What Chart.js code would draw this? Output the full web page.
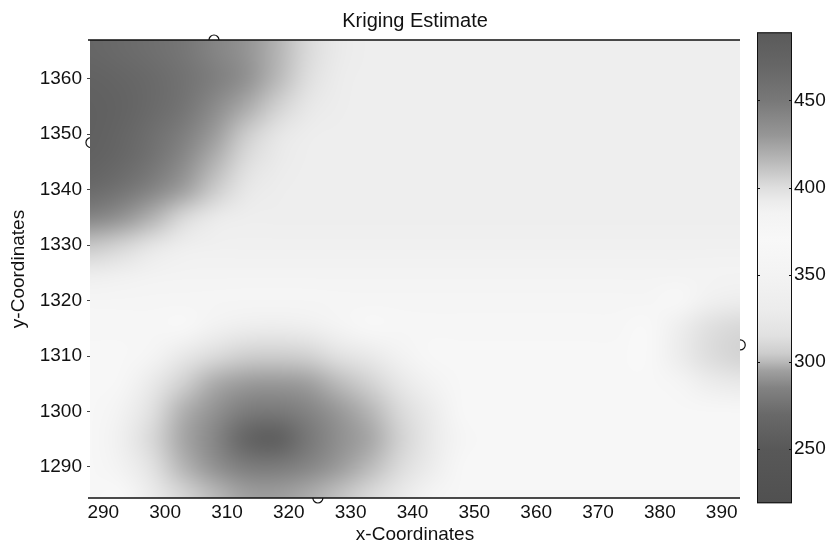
<!DOCTYPE html>
<html>
<head>
<meta charset="utf-8">
<script src="https://cdn.jsdelivr.net/npm/chart.js@4.4.0/dist/chart.umd.min.js"></script>
<style>
  html, body { margin: 0; padding: 0; background: #fff; }
  #wrap { width: 830px; height: 547px; }
</style>
</head>
<body>
<div id="wrap"><canvas id="krig" width="830" height="547"></canvas></div>
<script>
// grid nodes of the estimate (x left->right, y top->bottom)
const xNodes = [288, 293, 298, 303, 308, 313, 318, 323, 328, 333, 338, 343, 348, 353, 358, 363, 368, 373, 378, 383, 388, 393];
const yNodes = [1365, 1360, 1355, 1350, 1345, 1340, 1335, 1330, 1325, 1320, 1315, 1310, 1305, 1300, 1295, 1290, 1285];

// kriged values, one row per yNode
const estimate = [
  [470, 466, 460, 452, 442, 432, 418, 402, 393, 390, 390, 390, 390, 390, 390, 390, 390, 390, 390, 390, 390, 390],
  [476, 472, 466, 457, 446, 434, 416, 400, 392, 390, 390, 390, 390, 390, 390, 390, 390, 390, 390, 390, 390, 390],
  [480, 474, 466, 454, 438, 422, 406, 395, 391, 390, 390, 390, 390, 390, 390, 390, 390, 390, 390, 390, 390, 390],
  [480, 472, 460, 446, 428, 408, 396, 391, 390, 390, 390, 390, 390, 390, 390, 390, 390, 390, 390, 390, 390, 390],
  [477, 468, 454, 438, 418, 401, 393, 390, 390, 390, 390, 390, 390, 390, 390, 390, 390, 390, 390, 390, 390, 390],
  [466, 456, 442, 426, 408, 395, 391, 390, 390, 390, 390, 390, 390, 390, 390, 390, 390, 390, 390, 390, 390, 390],
  [442, 432, 418, 402, 393, 390, 390, 390, 390, 390, 390, 390, 390, 390, 390, 390, 390, 390, 390, 390, 390, 390],
  [410, 404, 396, 390, 388, 388, 388, 388, 388, 388, 388, 388, 388, 388, 388, 388, 388, 388, 388, 388, 388, 388],
  [392, 389, 386, 385, 384, 384, 384, 384, 384, 384, 384, 384, 384, 384, 384, 384, 384, 384, 384, 384, 384, 384],
  [380, 380, 380, 380, 380, 380, 380, 380, 380, 380, 380, 380, 380, 380, 380, 380, 380, 380, 380, 366, 340, 332],
  [375, 375, 375, 364, 343, 332, 331, 336, 349, 366, 375, 375, 375, 375, 375, 375, 375, 375, 371, 337, 314, 310],
  [372, 372, 353, 325, 312, 306, 305, 307, 315, 326, 348, 372, 372, 372, 372, 372, 372, 372, 369, 334, 313, 308],
  [372, 363, 326, 306, 297, 293, 292, 294, 300, 307, 323, 348, 372, 372, 372, 372, 372, 372, 372, 356, 333, 326],
  [372, 346, 314, 298, 290, 281, 279, 285, 292, 299, 311, 329, 365, 372, 372, 372, 372, 372, 372, 372, 372, 366],
  [372, 339, 310, 296, 286, 264, 256, 278, 289, 296, 307, 326, 359, 372, 372, 372, 372, 372, 372, 372, 372, 372],
  [372, 347, 315, 299, 290, 282, 281, 286, 293, 300, 312, 331, 366, 372, 372, 372, 372, 372, 372, 372, 372, 372],
  [372, 369, 329, 309, 300, 295, 294, 297, 302, 311, 326, 354, 372, 372, 372, 372, 372, 372, 372, 372, 372, 372]
];

// sample locations
const sampleX = [307.9, 288, 324.7, 393];
const sampleY = [1367, 1348.5, 1284.4, 1312];

const xTicks = [290, 300, 310, 320, 330, 340, 350, 360, 370, 380, 390];
const yTicks = [1290, 1300, 1310, 1320, 1330, 1340, 1350, 1360];
const barTicks = [250, 300, 350, 400, 450];
const barMin = 219, barMax = 489;

// gray colormap: [value, gray level]
const grayStops = [
  [219, 80], [250, 88], [270, 105], [285, 130], [295, 160], [300, 185], [305, 205],
  [315, 225], [330, 236], [350, 243], [370, 248], [385, 243], [392, 236], [400, 222],
  [405, 210], [415, 185], [430, 150], [450, 120], [470, 102], [489, 90]
];

function grayOf(v) {
  if (v <= grayStops[0][0]) return grayStops[0][1];
  for (let i = 1; i < grayStops.length; i++) {
    const [v1, g1] = grayStops[i];
    const [v0, g0] = grayStops[i - 1];
    if (v <= v1) return Math.round(g0 + (g1 - g0) * (v - v0) / (v1 - v0));
  }
  return grayStops[grayStops.length - 1][1];
}

const FONT = { family: '"Liberation Sans", Arial, sans-serif', size: 19 };
const INK = '#111';

const heatmap = {
  id: 'heatmap',
  afterDatasetsDraw(chart) {
    const { ctx, chartArea: a, scales: { x, y } } = chart;
    const cols = xNodes.length, rows = yNodes.length;
    const off = document.createElement('canvas');
    off.width = cols;
    off.height = rows;
    const octx = off.getContext('2d');
    const img = octx.createImageData(cols, rows);
    estimate.forEach((row, r) => row.forEach((v, c) => {
      const g = grayOf(v), i = (r * cols + c) * 4;
      img.data[i] = g; img.data[i + 1] = g; img.data[i + 2] = g; img.data[i + 3] = 255;
    }));
    octx.putImageData(img, 0, 0);

    const hx = (xNodes[1] - xNodes[0]) / 2, hy = (yNodes[0] - yNodes[1]) / 2;
    const left = x.getPixelForValue(xNodes[0] - hx);
    const right = x.getPixelForValue(xNodes[cols - 1] + hx);
    const top = y.getPixelForValue(yNodes[0] + hy);
    const bottom = y.getPixelForValue(yNodes[rows - 1] - hy);

    ctx.save();
    ctx.beginPath();
    ctx.rect(a.left, a.top, a.right - a.left, a.bottom - a.top);
    ctx.clip();
    ctx.imageSmoothingEnabled = true;
    ctx.imageSmoothingQuality = 'high';
    ctx.drawImage(off, left, top, right - left, bottom - top);
    ctx.restore();

    // top and bottom frame lines
    ctx.save();
    ctx.strokeStyle = '#111';
    ctx.lineWidth = 1.5;
    ctx.beginPath();
    ctx.moveTo(a.left - 2, a.top);
    ctx.lineTo(a.right, a.top);
    ctx.moveTo(a.left - 2, a.bottom);
    ctx.lineTo(a.right, a.bottom);
    ctx.stroke();
    ctx.restore();
  },
  afterDraw(chart) {
    const { ctx, chartArea: a } = chart;
    const s = chart.scales.cb;
    const x0 = a.right + 17, x1 = a.right + 52;
    const yTop = s.getPixelForValue(barMax), yBot = s.getPixelForValue(barMin);
    const grad = ctx.createLinearGradient(0, yBot, 0, yTop);
    grayStops.forEach(([v, g]) => grad.addColorStop((v - barMin) / (barMax - barMin), `rgb(${g},${g},${g})`));
    ctx.save();
    ctx.fillStyle = grad;
    ctx.fillRect(x0, yTop, x1 - x0, yBot - yTop);
    ctx.strokeStyle = '#111';
    ctx.lineWidth = 1;
    ctx.strokeRect(x0 + 0.5, yTop + 0.5, x1 - x0 - 1, yBot - yTop - 1);
    ctx.beginPath();
    barTicks.forEach(v => {
      const py = Math.round(s.getPixelForValue(v)) + 0.5;
      ctx.moveTo(x0, py); ctx.lineTo(x0 + 3, py);
      ctx.moveTo(x1 - 3, py); ctx.lineTo(x1, py);
    });
    ctx.stroke();
    ctx.restore();
  }
};

const plain = v => String(v);

new Chart(document.getElementById('krig'), {
  type: 'scatter',
  data: {
    datasets: [{
      data: sampleX.map((v, i) => ({ x: v, y: sampleY[i] })),
      showLine: false,
      pointRadius: 5,
      pointBorderWidth: 1.2,
      pointBorderColor: '#111',
      pointBackgroundColor: 'rgba(0,0,0,0)',
      clip: false
    }]
  },
  options: {
    responsive: false,
    animation: false,
    devicePixelRatio: 1,
    layout: { padding: 0 },
    plugins: {
      legend: { display: false },
      tooltip: { enabled: false },
      title: {
        display: true,
        text: 'Kriging Estimate',
        color: INK,
        font: { ...FONT, size: 20, weight: 'normal' },
        padding: { top: 9, bottom: 7 }
      }
    },
    scales: {
      x: {
        type: 'linear',
        min: 287.85,
        max: 392.96,
        afterBuildTicks: s => { s.ticks = xTicks.map(v => ({ value: v })); },
        afterFit: s => { s.height = 49; },
        grid: { display: false, drawTicks: false },
        border: { display: false },
        ticks: { color: INK, font: FONT, padding: 3, maxRotation: 0, callback: plain },
        title: { display: true, text: 'x-Coordinates', color: INK, font: FONT, padding: { top: 0, bottom: 1 } }
      },
      y: {
        type: 'linear',
        min: 1284.4,
        max: 1367,
        afterBuildTicks: s => { s.ticks = yTicks.map(v => ({ value: v })); },
        afterFit: s => { s.width = 90; },
        grid: { display: true, drawOnChartArea: false, drawTicks: true, tickLength: 3, tickColor: '#444', color: '#444' },
        border: { display: false },
        ticks: { color: INK, font: FONT, padding: 5, callback: plain },
        title: { display: true, text: 'y-Coordinates', color: INK, font: FONT, padding: { top: 7, bottom: 0 } }
      },
      cb: {
        type: 'linear',
        axis: 'y',
        position: 'right',
        min: 222.0,
        max: 484.6,
        afterBuildTicks: s => { s.ticks = barTicks.map(v => ({ value: v })); },
        afterFit: s => { s.width = 90; },
        // long invisible tick marks push the labels past the colour bar
        grid: { display: false, drawTicks: true, tickLength: 51 },
        border: { display: false },
        ticks: { color: INK, font: FONT, padding: 3, callback: plain }
      }
    }
  },
  plugins: [heatmap]
});
</script>
</body>
</html>
